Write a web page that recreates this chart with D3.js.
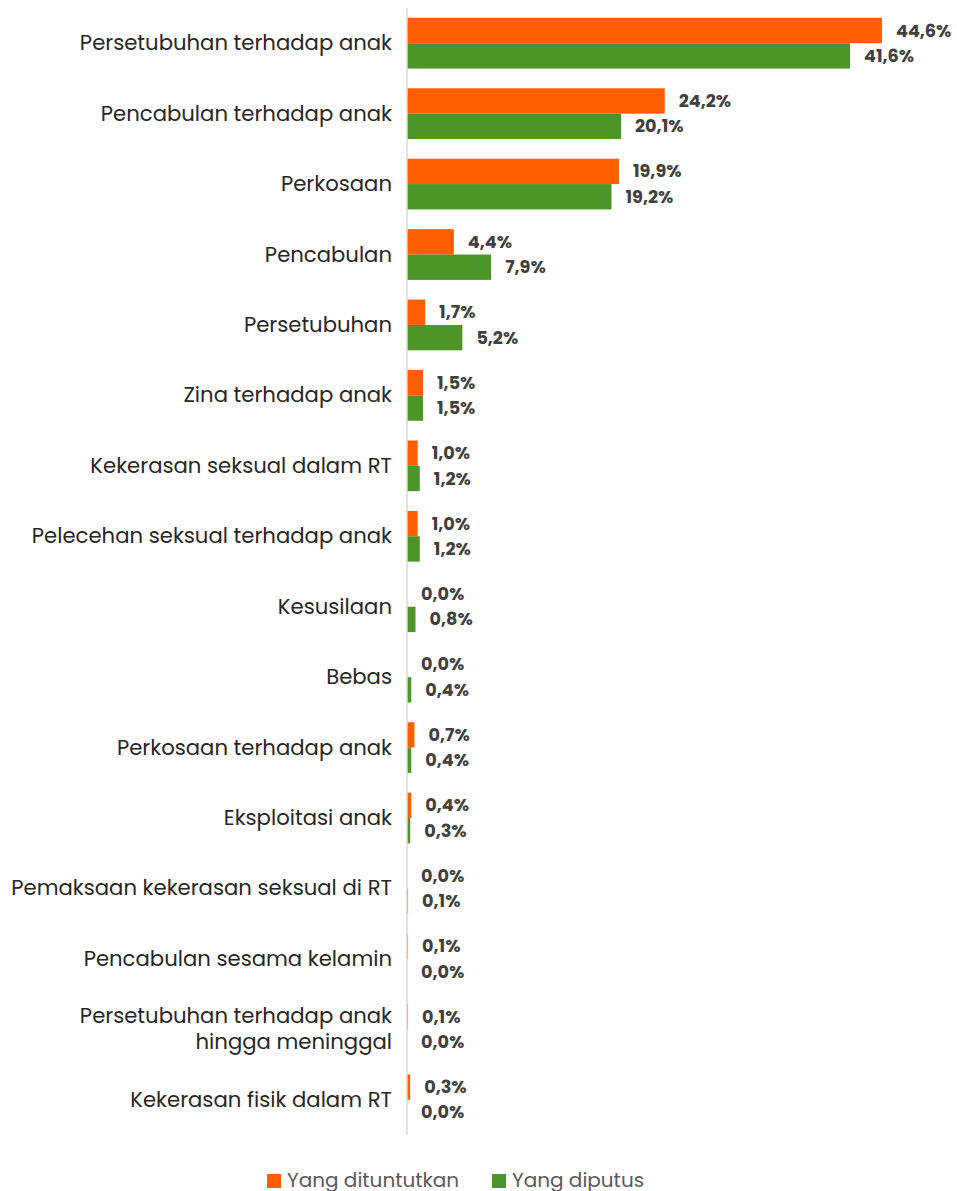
<!DOCTYPE html>
<html>
<head>
<meta charset="utf-8">
<script src="https://cdn.jsdelivr.net/npm/d3@7"></script>
<style>
  html, body { margin: 0; padding: 0; background: #fff; }
  svg { display: block; }
  .cat { font-family: "Poppins", "Open Sans", sans-serif; font-size: 21.2px; fill: #262626; }
  .val { font-family: "Poppins", "Open Sans", sans-serif; font-size: 17.6px; font-weight: 700; fill: #404040; }
  .leg { font-family: "Poppins", "Open Sans", sans-serif; font-size: 20px; fill: #595959; }
</style>
</head>
<body>
<svg id="chart" width="957" height="1191"></svg>
<script>
// Categories (each entry is a list of label lines)
const categories = [
  ["Persetubuhan terhadap anak"],
  ["Pencabulan terhadap anak"],
  ["Perkosaan"],
  ["Pencabulan"],
  ["Persetubuhan"],
  ["Zina terhadap anak"],
  ["Kekerasan seksual dalam RT"],
  ["Pelecehan seksual terhadap anak"],
  ["Kesusilaan"],
  ["Bebas"],
  ["Perkosaan terhadap anak"],
  ["Eksploitasi anak"],
  ["Pemaksaan kekerasan seksual di RT"],
  ["Pencabulan sesama kelamin"],
  ["Persetubuhan terhadap anak", "hingga meninggal"],
  ["Kekerasan fisik dalam RT"]
];

const seriesNames = ["Yang dituntutkan", "Yang diputus"];
const dituntutkan = [44.6, 24.2, 19.9, 4.4, 1.7, 1.5, 1.0, 1.0, 0.0, 0.0, 0.7, 0.4, 0.0, 0.1, 0.1, 0.3];
const diputus     = [41.6, 20.1, 19.2, 7.9, 5.2, 1.5, 1.2, 1.2, 0.8, 0.4, 0.4, 0.3, 0.1, 0.0, 0.0, 0.0];
const colors = ["#FF5F00", "#4E9529"];

const svg = d3.select("#chart");
const axisX = 407, plotTop = 8, plotBottom = 1135;

const keys = categories.map((c, i) => "c" + i);

const y = d3.scaleBand().domain(keys).range([plotTop, plotBottom])
  .paddingInner(0.28).paddingOuter(0.14);
const ySub = d3.scaleBand().domain([0, 1]).range([0, y.bandwidth()]);
const x = d3.scaleLinear().domain([0, 50]).range([axisX, axisX + 532.5]);

const fmt = v => d3.format(".1f")(v).replace(".", ",") + "%";

const rows = categories.map((c, i) => ({ key: keys[i], lines: c, vals: [dituntutkan[i], diputus[i]] }));

const g = svg.append("g");

rows.forEach(r => {
  const gy = y(r.key);
  r.vals.forEach((v, s) => {
    g.append("rect")
      .attr("x", x(0))
      .attr("y", gy + ySub(s))
      .attr("width", x(v) - x(0))
      .attr("height", ySub.bandwidth())
      .attr("fill", colors[s]);
    g.append("text")
      .attr("class", "val")
      .attr("x", x(v) + 14)
      .attr("y", gy + ySub(s) + ySub.bandwidth() / 2 + 6)
      .text(fmt(v));
  });
  // category label, right-aligned against the axis
  const t = g.append("text")
    .attr("class", "cat")
    .attr("text-anchor", "end")
    .attr("x", 392);
  const cy = gy + y.bandwidth() / 2;
  const lh = 26;
  r.lines.forEach((ln, j) => {
    t.append("tspan")
      .attr("x", 392)
      .attr("y", cy + 7 + (j - (r.lines.length - 1) / 2) * lh)
      .text(ln);
  });
});

// vertical axis line
svg.append("line")
  .attr("x1", axisX).attr("x2", axisX)
  .attr("y1", plotTop).attr("y2", plotBottom)
  .attr("stroke", "#d9d9d9").attr("stroke-width", 1.5);

// legend
const legend = svg.append("g");
const legX = [267, 492];
seriesNames.forEach((n, s) => {
  legend.append("rect")
    .attr("x", legX[s]).attr("y", 1174)
    .attr("width", 14).attr("height", 14)
    .attr("fill", colors[s]);
  legend.append("text")
    .attr("class", "leg")
    .attr("x", legX[s] + 20).attr("y", 1187)
    .text(n);
});
</script>
</body>
</html>
